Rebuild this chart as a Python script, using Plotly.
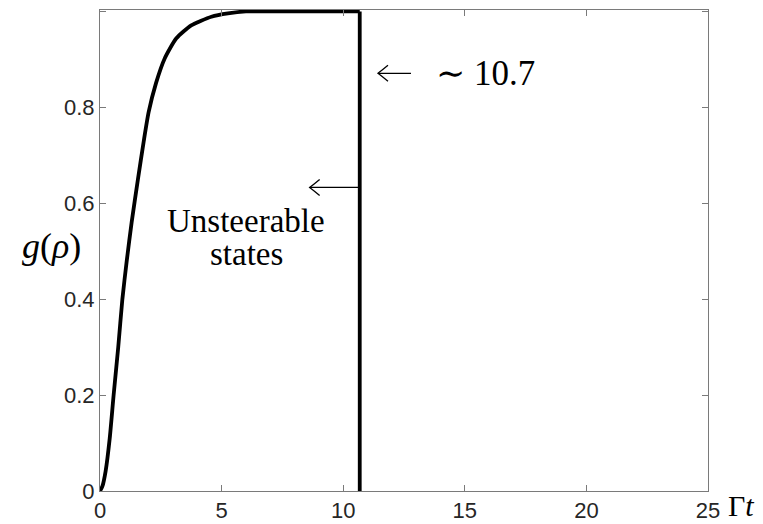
import plotly.graph_objects as go

# curve
gamma_t = [0, 0.1, 0.23, 0.40, 0.56, 0.75, 0.92, 1.1, 1.3, 1.56, 1.8, 2.0,
           2.3, 2.66, 3.14, 3.75, 4.58, 5.26, 6.0, 8.0, 10.68]
g_rho = [0, 0.01, 0.041, 0.11, 0.2, 0.3, 0.4, 0.48, 0.56, 0.65, 0.73, 0.79,
         0.85, 0.902, 0.944, 0.971, 0.989, 0.996, 1.0, 1.0, 1.0]

cutoff_t = 10.68
cutoff_g = [1.0, 0.0]

x_ticks = [0, 5, 10, 15, 20, 25]
y_ticks = [0, 0.2, 0.4, 0.6, 0.8, 1]
y_tick_text = ["0", "0.2", "0.4", "0.6", "0.8", "1"]

AXIS_COLOR = "#7a7a7a"
TICK_FONT = dict(family="Liberation Sans, Arial, sans-serif", size=22, color="#262626")
SERIF = "Liberation Serif, DejaVu Serif, serif"
ARROW_HEAD = "M 10,8 Q 4,3 0,0 Q 4,-3 10,-8"

fig = go.Figure()
fig.add_trace(go.Scatter(
    x=gamma_t, y=g_rho, mode="lines",
    line=dict(color="black", width=3.8, shape="spline", smoothing=0.6),
    showlegend=False, hoverinfo="skip",
))
fig.add_trace(go.Scatter(
    x=[cutoff_t, cutoff_t], y=cutoff_g, mode="lines",
    line=dict(color="black", width=3.8),
    showlegend=False, hoverinfo="skip",
))

axis_common = dict(
    showline=True, linecolor=AXIS_COLOR, linewidth=1, mirror="ticks",
    ticks="inside", ticklen=6, tickcolor=AXIS_COLOR, tickwidth=1,
    showgrid=False, zeroline=False, tickfont=TICK_FONT,
)

fig.update_layout(
    width=763, height=524,
    margin=dict(l=92, r=63, t=2, b=41),
    paper_bgcolor="white", plot_bgcolor="white",
    xaxis=dict(range=[0, 25], tickvals=x_ticks, **axis_common),
    yaxis=dict(range=[0, 1.003], tickvals=y_ticks, ticktext=y_tick_text, **axis_common),
)


def add_left_arrow(tip_x, tip_y, shaft_px):
    # thin left-pointing arrow with an open head, tip anchored in data coords
    fig.add_shape(type="line", xref="x", yref="y",
                  xsizemode="pixel", ysizemode="pixel",
                  xanchor=tip_x, yanchor=tip_y,
                  x0=0, x1=shaft_px, y0=0, y1=0,
                  line=dict(color="black", width=1.3))
    fig.add_shape(type="path", xref="x", yref="y",
                  xsizemode="pixel", ysizemode="pixel",
                  xanchor=tip_x, yanchor=tip_y, path=ARROW_HEAD,
                  line=dict(color="black", width=1.3))


# "<- ~10.7" label next to the cutoff
add_left_arrow(11.43, 0.871, 33)
fig.add_annotation(
    x=13.73, y=0.871, xanchor="left", yanchor="middle",
    text="\u223c 10.7", showarrow=False,
    font=dict(family=SERIF, size=35, color="black"),
)

# arrow pointing into the unsteerable region
add_left_arrow(8.62, 0.633, 50)
fig.add_annotation(
    x=6.02, y=0.5625, xanchor="center", yanchor="middle",
    text="Unsteerable", showarrow=False,
    font=dict(family=SERIF, size=33, color="black"),
)
fig.add_annotation(
    x=6.02, y=0.495, xanchor="center", yanchor="middle",
    text="states", showarrow=False,
    font=dict(family=SERIF, size=33, color="black"),
)

# axis titles
fig.add_annotation(
    xref="paper", yref="y", x=-0.079, y=0.51, xanchor="center", yanchor="middle",
    text="<i>g</i>(<i>\u03c1</i>)", showarrow=False,
    font=dict(family=SERIF, size=36, color="black"),
)
fig.add_annotation(
    xref="paper", yref="paper", x=1.055, y=-0.031, xanchor="center", yanchor="middle",
    text="\u0393<i>t</i>", showarrow=False,
    font=dict(family=SERIF, size=30, color="black"),
)

fig.write_html("out.html")
